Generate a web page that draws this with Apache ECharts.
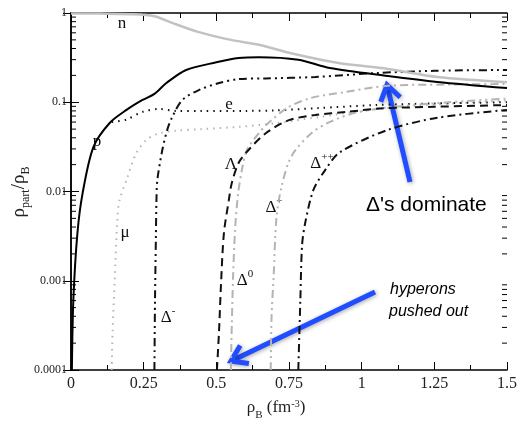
<!DOCTYPE html>
<html>
<head>
<meta charset="utf-8">
<script src="https://cdn.jsdelivr.net/npm/echarts@6.0.0/dist/echarts.min.js"></script>
<style>
  html, body { margin: 0; padding: 0; background: #fff; }
  #main { width: 520px; height: 424px; }
</style>
</head>
<body>
<div id="main"></div>
<script>
// particle fractions rho_part / rho_B vs rho_B (fm^-3)
const nData = [[0,0.99],[0.1,0.985],[0.2,0.97],[0.287,0.92],[0.35,0.77],[0.44,0.61],[0.55,0.5],[0.646,0.44],[0.78,0.34],[0.92,0.275],[1.09,0.236],[1.26,0.192],[1.5,0.168]];
const pData = [[0.003,0.0001],[0.008,0.0006],[0.022,0.0034],[0.04,0.0096],[0.077,0.0315],[0.133,0.0586],[0.191,0.082],[0.246,0.106],[0.287,0.124],[0.328,0.164],[0.396,0.23],[0.5,0.28],[0.577,0.313],[0.646,0.32],[0.782,0.30],[0.89,0.242],[1.09,0.197],[1.26,0.169],[1.5,0.144]];
const eData = [[0.14,0.06],[0.191,0.064],[0.246,0.078],[0.304,0.084],[0.362,0.08],[0.45,0.08],[0.6,0.08],[0.7,0.081],[0.85,0.086],[1.05,0.093],[1.25,0.097],[1.5,0.1]];
const muData = [[0.14,0.0001],[0.143,0.00026],[0.15,0.00095],[0.16,0.0052],[0.167,0.008],[0.191,0.0135],[0.225,0.027],[0.26,0.038],[0.304,0.045],[0.362,0.048],[0.45,0.05],[0.577,0.053],[0.7,0.058],[0.85,0.068],[1.0,0.08],[1.2,0.092],[1.5,0.105]];
const dmData = [[0.287,0.0001],[0.289,0.0006],[0.292,0.003],[0.294,0.008],[0.297,0.0134],[0.314,0.029],[0.331,0.049],[0.348,0.068],[0.383,0.106],[0.44,0.137],[0.509,0.164],[0.577,0.182],[0.67,0.185],[0.84,0.192],[1.056,0.213],[1.25,0.225],[1.5,0.23]];
const lamData = [[0.502,0.0001],[0.509,0.00026],[0.516,0.0009],[0.526,0.0034],[0.543,0.008],[0.553,0.0124],[0.577,0.021],[0.61,0.029],[0.67,0.045],[0.75,0.063],[0.84,0.072],[0.95,0.078],[1.06,0.085],[1.25,0.089],[1.5,0.093]];
const d0Data = [[0.55,0.0001],[0.553,0.0003],[0.558,0.0012],[0.565,0.004],[0.575,0.0095],[0.588,0.0175],[0.605,0.029],[0.646,0.045],[0.68,0.059],[0.748,0.088],[0.827,0.112],[0.943,0.13],[1.09,0.153],[1.3,0.158],[1.5,0.16]];
const dpData = [[0.687,0.0001],[0.69,0.0004],[0.697,0.0011],[0.707,0.0052],[0.724,0.0112],[0.748,0.021],[0.772,0.029],[0.827,0.045],[0.885,0.059],[0.977,0.076],[1.1,0.088],[1.3,0.1],[1.5,0.11]];
const dppData = [[0.782,0.0001],[0.789,0.0006],[0.795,0.0025],[0.806,0.0045],[0.834,0.0104],[0.875,0.0175],[0.925,0.0275],[1.09,0.049],[1.26,0.067],[1.5,0.082]];

const yTickLabels = ['0.0001','0.001','0.01','0.1','1'];
const xTickLabels = ['0','0.25','0.5','0.75','1','1.25','1.5'];

// log minor ticks 2..9 x 10^k
const minorY = [];
for (let k = -4; k < 0; k++) {
	for (let m = 2; m <= 9; m++) minorY.push([0, m * Math.pow(10, k)]);
}

const serif = '"Liberation Serif", "DejaVu Serif", serif';
const sans = '"Liberation Sans", Arial, sans-serif';

function line(name, data, color, width, type) {
	return {
		name: name, type: 'line', data: data, smooth: 0.3,
		showSymbol: false, symbol: 'none', silent: true,
		lineStyle: { color: color, width: width, type: type }
	};
}

function arrow(x1, y1, x2, y2) {
	const dx = x2 - x1, dy = y2 - y1;
	const len = Math.sqrt(dx * dx + dy * dy);
	const ux = dx / len, uy = dy / len;
	const bx = x2 - ux * 15, by = y2 - uy * 15;
	const st = { stroke: '#1f4dff', lineWidth: 5, lineCap: 'butt', lineJoin: 'miter',
		shadowBlur: 4, shadowColor: 'rgba(0,0,0,0.35)', shadowOffsetX: 1, shadowOffsetY: 1 };
	return [
		{ type: 'line', shape: { x1: x1, y1: y1, x2: x2 - ux * 2, y2: y2 - uy * 2 }, style: st },
		{ type: 'polyline', shape: { points: [[bx - uy * 10, by + ux * 10], [x2, y2], [bx + uy * 10, by - ux * 10]] }, style: st }
	];
}

function lbl(text, x, y) {
	return {
		type: 'text', x: x, y: y,
		style: {
			text: text, align: 'center', verticalAlign: 'middle',
			rich: {
				a: { fontFamily: serif, fontSize: 17, lineHeight: 20, fill: '#111', verticalAlign: 'bottom' },
				s: { fontFamily: serif, fontSize: 11, lineHeight: 11, fill: '#111', verticalAlign: 'top' }
			}
		}
	};
}

const chart = echarts.init(document.getElementById('main'));

const xAxisBase = {
	type: 'value', min: 0, max: 1.5, interval: 0.25,
	axisLine: { lineStyle: { color: '#000', width: 1.5 } },
	axisTick: { inside: true, length: 8, lineStyle: { color: '#000' } },
	minorTick: { show: true, splitNumber: 2, length: 5, lineStyle: { color: '#000' } },
	splitLine: { show: false }
};
const yAxisBase = {
	type: 'log', logBase: 10, min: 0.0001, max: 1,
	axisLine: { lineStyle: { color: '#000', width: 1.5 } },
	axisTick: { inside: true, length: 8, lineStyle: { color: '#000' } },
	splitLine: { show: false }
};

const option = {
	animation: false,
	backgroundColor: '#fff',
	grid: { left: 71, top: 13, right: 10, bottom: 54 },
	xAxis: [
		Object.assign({}, xAxisBase, {
			position: 'bottom',
			axisLabel: {
				margin: 6, fontFamily: serif, fontSize: 16, color: '#222',
				formatter: function (v) { return xTickLabels[Math.round(v / 0.25)]; }
			}
		}),
		Object.assign({}, xAxisBase, { position: 'top', axisLabel: { show: false } })
	],
	yAxis: [
		Object.assign({}, yAxisBase, {
			position: 'left',
			axisLabel: {
				margin: 4, fontFamily: serif, fontSize: 12, color: '#222',
				formatter: function (v) { return yTickLabels[Math.round(Math.log10(v)) + 4]; }
			}
		}),
		Object.assign({}, yAxisBase, { position: 'right', axisLabel: { show: false } })
	],
	series: [
		{
			type: 'custom', data: minorY, silent: true, z: 1,
			renderItem: function (params, api) {
				const v = api.value(1);
				const l = api.coord([0, v]);
				const r = api.coord([1.5, v]);
				return {
					type: 'group', children: [
						{ type: 'line', shape: { x1: l[0], y1: l[1], x2: l[0] + 5, y2: l[1] }, style: { stroke: '#000', lineWidth: 1 } },
						{ type: 'line', shape: { x1: r[0], y1: r[1], x2: r[0] - 5, y2: r[1] }, style: { stroke: '#000', lineWidth: 1 } }
					]
				};
			}
		},
		line('μ', muData, '#b4b4b4', 2, [1.5, 5]),
		line('e', eData, '#111', 2, [1.5, 5]),
		line('Δ+', dpData, '#b4b4b4', 2, [8, 4, 2, 4, 2, 4]),
		line('Δ0', d0Data, '#b4b4b4', 2, [8, 4, 2, 4]),
		line('Λ', lamData, '#111', 2, [8, 5]),
		line('Δ++', dppData, '#111', 2, [8, 4, 2, 4]),
		line('Δ-', dmData, '#111', 2, [8, 4, 2, 4, 2, 4]),
		line('n', nData, '#c2c2c2', 2.5, 'solid'),
		line('p', pData, '#000', 2, 'solid')
	],
	graphic: [
		lbl('{a|n}', 122, 22),
		lbl('{a|e}', 229, 103),
		lbl('{a|p}', 97, 140),
		lbl('{a|μ}', 125, 231),
		lbl('{a|Δ}{s|-}', 168, 316),
		lbl('{a|Λ}', 231, 163),
		lbl('{a|Δ}{s|0}', 245, 279),
		lbl('{a|Δ}{s|+}', 274, 206),
		lbl('{a|Δ}{s|++}', 322, 162),
		{
			type: 'text', x: 366, y: 205,
			style: { text: 'Δ\'s dominate', font: '21px ' + sans, fill: '#000', align: 'left', verticalAlign: 'middle' }
		},
		{
			type: 'text', x: 390, y: 290,
			style: { text: 'hyperons', font: 'italic 16px ' + sans, fill: '#000', align: 'left', verticalAlign: 'middle' }
		},
		{
			type: 'text', x: 389, y: 312,
			style: { text: 'pushed out', font: 'italic 16px ' + sans, fill: '#000', align: 'left', verticalAlign: 'middle' }
		},
		{
			type: 'text', x: 276, y: 410,
			style: {
				text: '{a|ρ}{b|B}{a| (fm}{c|-3}{a|)}', align: 'center', verticalAlign: 'middle',
				rich: {
					a: { fontFamily: serif, fontSize: 17, lineHeight: 22, fill: '#222', verticalAlign: 'top' },
					b: { fontFamily: serif, fontSize: 11, lineHeight: 10, fill: '#222', verticalAlign: 'bottom' },
					c: { fontFamily: serif, fontSize: 10, lineHeight: 8, fill: '#222', verticalAlign: 'top' }
				}
			}
		},
		{
			type: 'group', x: 21, y: 192, rotation: Math.PI / 2,
			children: [{
				type: 'text',
				style: {
					text: '{a|ρ}{b|part}{a|/ρ}{b|B}', align: 'center', verticalAlign: 'middle',
					rich: {
						a: { fontFamily: serif, fontSize: 19, lineHeight: 22, fill: '#222', verticalAlign: 'top' },
						b: { fontFamily: serif, fontSize: 12, lineHeight: 11, fill: '#222', verticalAlign: 'bottom' }
					}
				}
			}]
		}
	].concat(arrow(410, 182, 387, 85), arrow(375, 292, 231, 361))
};

chart.setOption(option);
</script>
</body>
</html>
